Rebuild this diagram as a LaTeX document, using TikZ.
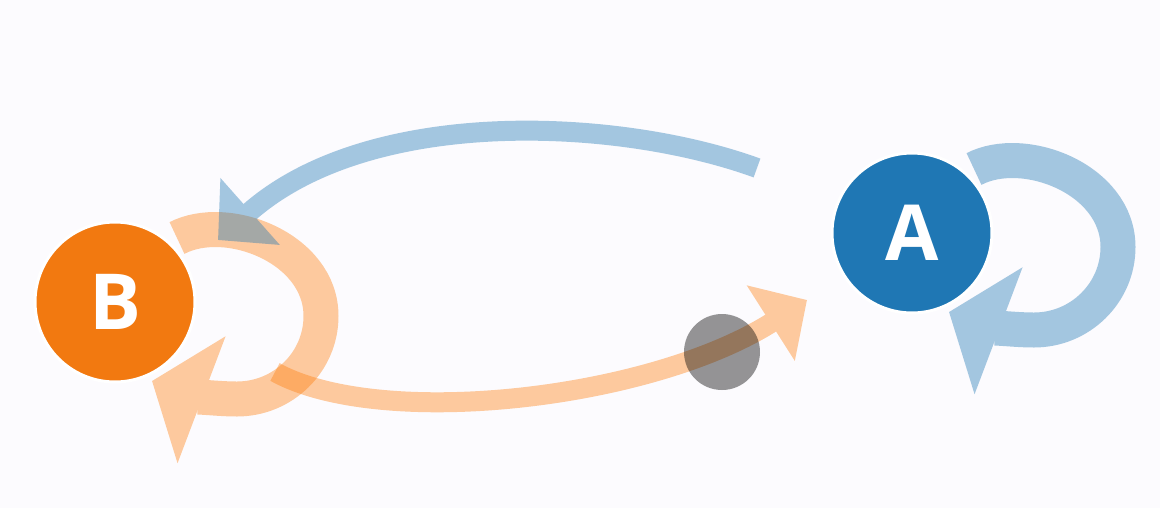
\documentclass[tikz,border=0pt]{standalone}
\usepackage{fontspec}
\setsansfont{Open Sans}
\usetikzlibrary{arrows.meta,calc}
\definecolor{nblue}{RGB}{31,119,180}
\definecolor{norange}{RGB}{242,121,16}
\definecolor{eorange}{RGB}{255,127,14}
\definecolor{bgc}{RGB}{252,251,254}
\tikzset{
  state/.style={circle, draw=white, line width=0.06cm, minimum size=3.2cm, inner sep=0pt,
    text=white, font=\sffamily\bfseries\fontsize{44}{44}\selectfont},
  mainedge/.style={line width=0.4cm, -{Triangle[length=0.86cm, width=1.74cm]}},
  loopedge/.style={line width=0.7cm, -{Triangle[length=1.06cm, width=2.66cm]}},
  particle/.style={circle, fill=black, fill opacity=0.41, draw=none, minimum size=1.52cm, inner sep=0pt},
  fade/.style={transparency group, opacity=0.4}
}
\begin{document}
\begin{tikzpicture}[x=0.02cm,y=-0.02cm]
\fill[bgc] (0,0) rectangle (1160,508);
\useasboundingbox (0,0) rectangle (1160,508);
\node[state, fill=nblue] (A) at (912,233) {A};
\node[state, fill=norange] (B) at (115,302) {B};
\coordinate (a0) at ($(A)+(-155,-65)$);
\coordinate (b0) at ($(B)+(103,-62)$);
\coordinate (b1) at ($(B)+(160,70)$);
\coordinate (a1) at ($(A)+(-105,67)$);
% self-loop on B
\begin{scope}[fade]
\begin{scope}[shift={(B)}]
\draw[loopedge, eorange] (62,-64) .. controls (112,-90) and (206,-54) .. (206,14)
  .. controls (206,60) and (168,97) .. (122,97)
  .. controls (100,97) and (74,93) .. (37,79);
\end{scope}
\end{scope}
% B -> A
\begin{scope}[fade]
\draw[mainedge, eorange] (b1) .. controls (380,430) and (650,400) .. (a1);
\end{scope}
\node[particle] (P) at (722,352) {};
% self-loop on A
\begin{scope}[fade]
\begin{scope}[shift={(A)}]
\draw[loopedge, nblue] (62,-64) .. controls (112,-90) and (206,-54) .. (206,14)
  .. controls (206,60) and (168,97) .. (122,97)
  .. controls (100,97) and (74,93) .. (37,79);
\end{scope}
\end{scope}
% A -> B
\begin{scope}[fade]
\draw[mainedge, nblue] (a0) .. controls (620,118) and (370,105) .. (b0);
\end{scope}
\end{tikzpicture}
\end{document}
